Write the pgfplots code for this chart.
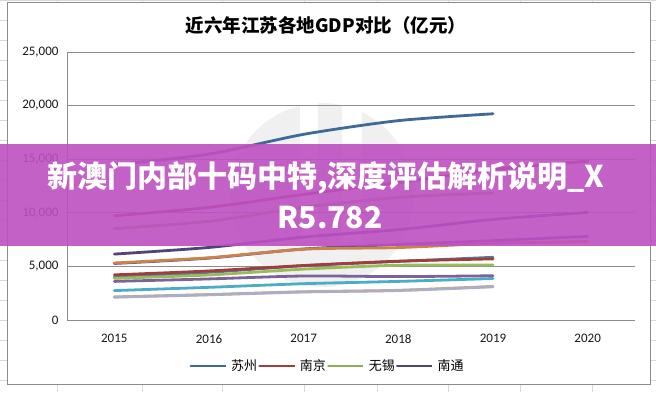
\documentclass[border=0pt]{standalone}
\usepackage{fontspec}
\setmainfont{Carlito}
\newfontfamily\cjk{Noto Sans CJK SC}
\usepackage{pgfplots}
\pgfplotsset{compat=1.18}
\definecolor{gridgray}{HTML}{8C8C8C}
\definecolor{sheet}{HTML}{D9D9D9}
\definecolor{cSZ}{HTML}{3F6A98}
\definecolor{cNJ}{HTML}{A33E3B}
\definecolor{cWX}{HTML}{8DAE56}
\definecolor{cNT}{HTML}{4F4379}
\definecolor{cCZ}{HTML}{6A4C9C}
\definecolor{cXZ}{HTML}{C9844A}
\definecolor{cYZ}{HTML}{5877A8}
\definecolor{cYC}{HTML}{9E3F3C}
\definecolor{cTZ}{HTML}{9BBB59}
\definecolor{cZJ}{HTML}{7B6298}
\definecolor{cHA}{HTML}{4BACC6}
\definecolor{cLYG}{HTML}{F0A060}
\definecolor{cSQ}{HTML}{A9AFC6}
\definecolor{banner}{RGB}{190,80,194}
\begin{document}
\begin{tikzpicture}[x=1pt,y=1pt]
\path[use as bounding box] (0,0) rectangle (656,392);
\fill[white] (0,0) rectangle (656,392);
\foreach \xx in {57,142,222,304,377,448,520,592} \draw[sheet, line width=0.8pt] (\xx,0) -- (\xx,392);
\foreach \yy in {12,32,...,392} \draw[sheet, line width=0.8pt] (0,\yy) -- (656,\yy);
\draw[fill=white, draw=gridgray, line width=1pt] (7,8) rectangle (650,389);
% faint watermark
\fill[black!6] (322,197) circle (92);
\fill[white] (300,150) rectangle (318,290);
\fill[white] (342,150) rectangle (362,290);
\node[font=\cjk\bfseries\fontsize{18.5}{18.5}\selectfont, anchor=center] at (326,367) {近六年江苏各地GDP对比（亿元）};
\begin{axis}[
  at={(67pt,72pt)}, anchor=south west, scale only axis,
  width=568pt, height=268pt,
  xmin=-0.5, xmax=5.5, ymin=0, ymax=25000,
  xtick={0,1,2,3,4,5}, xticklabels={2015,2016,2017,2018,2019,2020},
  ytick={0,5000,10000,15000,20000,25000},
  scaled y ticks=false,
  /pgf/number format/assume math mode=true,
  /pgf/number format/fixed,
  /pgf/number format/1000 sep={,},
  ymajorgrids, grid style={color=gridgray, line width=0.8pt},
  axis x line*=bottom, axis y line*=left,
  axis line style={gridgray, line width=0.8pt, -},
  major tick length=0pt,
  tick label style={font=\fontsize{13}{13}\selectfont, color=black!90},
  xticklabel style={yshift=-11pt},
  yticklabel style={xshift=-5pt},
  every axis plot/.append style={line width=2.8pt, smooth, tension=0.45, line cap=round, line join=round},
  legend columns=4,
  legend style={at={(axis description cs:0.5,0)}, anchor=center, xshift=-24pt, yshift=-46pt,
    draw=none, fill=none, font=\cjk\fontsize{13}{13}\selectfont,
    nodes={inner xsep=1pt},
    /tikz/every odd column/.append style={column sep=11pt}},
  legend image code/.code={\path (0pt,0pt) -- (27pt,0pt); \draw[#1, line width=2pt, line cap=butt, overlay] (7pt,0pt) -- (35pt,0pt);},
]
\addplot[cSZ] coordinates {(0,14504) (1,15475) (2,17320) (3,18597) (4,19236)};
\addlegendentry{苏州}
\addplot[cNJ] coordinates {(0,9721) (1,10503) (2,11715) (3,12820) (4,14030) (5,14817)};
\addlegendentry{南京}
\addplot[cWX] coordinates {(0,8518) (1,9210) (2,10512) (3,11439) (4,11852)};
\addlegendentry{无锡}
\addplot[cNT] coordinates {(0,6148) (1,6768) (2,7735) (3,8427) (4,9383) (5,10036)};
\addlegendentry{南通}
\addplot[cCZ, forget plot] coordinates {(0,5273) (1,5774) (2,6622) (3,7050) (4,7401) (5,7805)};
\addplot[cXZ, forget plot] coordinates {(0,5320) (1,5808) (2,6606) (3,6755) (4,7151) (5,7320)};
\addplot[cYZ, forget plot] coordinates {(0,4016) (1,4449) (2,5065) (3,5466) (4,5850)};
\addplot[cYC, forget plot] coordinates {(0,4212) (1,4576) (2,5083) (3,5487) (4,5702)};
\addplot[cTZ, forget plot] coordinates {(0,3888) (1,4201) (2,4745) (3,5108) (4,5133)};
\addplot[cZJ, forget plot] coordinates {(0,3602) (1,3834) (2,4105) (3,4050) (4,4127)};
\addplot[cHA, forget plot] coordinates {(0,2745) (1,3048) (2,3387) (3,3601) (4,3871)};
\addplot[cLYG, forget plot] coordinates {(0,2160) (1,2376) (2,2640) (3,2772) (4,3139)};
\addplot[cSQ, forget plot] coordinates {(0,2126) (1,2351) (2,2611) (3,2750) (4,3099)};
\end{axis}
% banner
\fill[banner, fill opacity=0.9] (0,146) rectangle (656,248);
\node[text=white, font=\cjk\bfseries\fontsize{30}{30}\selectfont, anchor=center] at (326,214) {新澳门内部十码中特,深度评估解析说明\_X};
\node[text=white, font=\cjk\bfseries\fontsize{30}{30}\selectfont, anchor=center] at (330,174) {R5.782};
\end{tikzpicture}
\end{document}
